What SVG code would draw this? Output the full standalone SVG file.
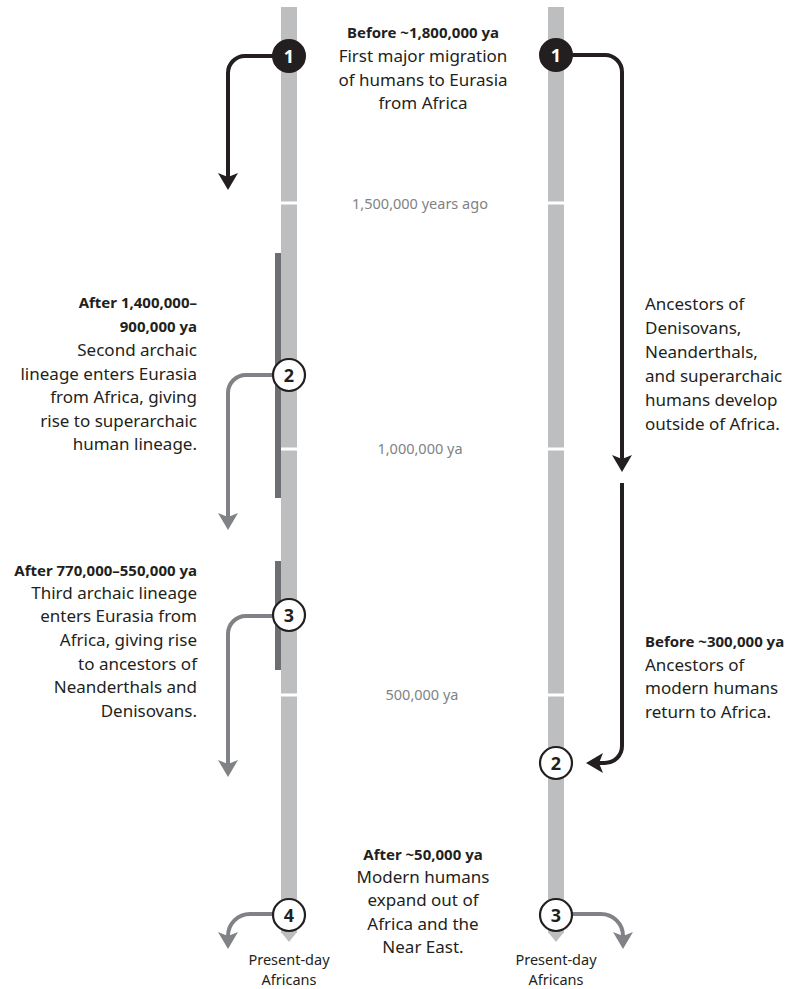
<svg xmlns="http://www.w3.org/2000/svg" width="790" height="989" viewBox="0 0 790 989">
<style>
.t{font-family:"Noto Sans","Liberation Sans",sans-serif;font-size:17px;fill:#231f20}
.b{font-family:"Noto Sans","Liberation Sans",sans-serif;font-size:15px;font-weight:bold;fill:#231f20}
.g{font-family:"Noto Sans","Liberation Sans",sans-serif;font-size:14.5px;fill:#808285}
.p{font-family:"Noto Sans","Liberation Sans",sans-serif;font-size:14.5px;fill:#231f20;text-anchor:middle}
.r{text-anchor:end}
.m{text-anchor:middle}
.bar{fill:#bcbec0}
.gap{fill:#ffffff}
.strip{fill:#6d6e71}
.ca{fill:none;stroke:#231f20;stroke-width:4}
.ga{fill:none;stroke:#808285;stroke-width:4}
.co{fill:#ffffff;stroke:#231f20;stroke-width:2.2}
.cd{fill:#231f20;stroke:#231f20;stroke-width:2}
.n{font-family:"Noto Sans","Liberation Sans",sans-serif;font-size:18px;font-weight:bold;fill:#231f20;text-anchor:middle}
.nw{fill:#ffffff}
</style>
<defs>
<marker id="ad" viewBox="-18 -11 20 22" markerWidth="20" markerHeight="22" refX="-13" refY="0" orient="auto" markerUnits="userSpaceOnUse">
<path d="M0,0 L-17,-10 L-13,0 L-17,10 Z" fill="#231f20"/>
</marker>
<marker id="ag" viewBox="-18 -11 20 22" markerWidth="20" markerHeight="22" refX="-13" refY="0" orient="auto" markerUnits="userSpaceOnUse">
<path d="M0,0 L-17,-10 L-13,0 L-17,10 Z" fill="#808285"/>
</marker>
</defs>

<g id="timeline-left">
<rect class="bar" x="281" y="7" width="16" height="926"/>
<polygon class="bar" points="281,932 297,932 289,942"/>
<rect class="gap" x="281" y="201.5" width="16" height="3"/>
<rect class="gap" x="281" y="447.5" width="16" height="3"/>
<rect class="gap" x="281" y="693.5" width="16" height="3"/>
<rect class="strip" x="275" y="253" width="6" height="245"/>
<rect class="strip" x="275" y="561" width="6" height="109"/>
</g>
<g id="timeline-right">
<rect class="bar" x="548" y="7" width="16" height="926"/>
<polygon class="bar" points="548,932 564,932 556,942"/>
<rect class="gap" x="548" y="201.5" width="16" height="3"/>
<rect class="gap" x="548" y="447.5" width="16" height="3"/>
<rect class="gap" x="548" y="693.5" width="16" height="3"/>
</g>

<g id="connectors">
<path class="ca" d="M273,56 H245 A17,17 0 0 0 228,73 V177" marker-end="url(#ad)"/>
<path class="ca" d="M571,55 H605 A17,17 0 0 1 622,72 V459" marker-end="url(#ad)"/>
<path class="ca" d="M622,483 V746 A17,17 0 0 1 605,763 H599" marker-end="url(#ad)"/>
<path class="ga" d="M272,375 H246 A18,18 0 0 0 228,393 V517" marker-end="url(#ag)"/>
<path class="ga" d="M272,616 H246 A18,18 0 0 0 228,634 V764" marker-end="url(#ag)"/>
<path class="ga" d="M273,914 H250 A22,22 0 0 0 228,936" marker-end="url(#ag)"/>
<path class="ga" d="M571,914 H601 A22,22 0 0 1 623,936" marker-end="url(#ag)"/>
</g>

<g id="node-left-1">
<circle class="cd" cx="289" cy="56" r="16"/>
<text class="n nw" x="289" y="62.5">1</text>
</g>
<g id="node-right-1">
<circle class="cd" cx="556" cy="55" r="16"/>
<text class="n nw" x="556" y="61.5">1</text>
</g>
<g id="node-left-2">
<circle class="co" cx="289" cy="375" r="16"/>
<text class="n" x="289" y="381.5">2</text>
</g>
<g id="node-left-3">
<circle class="co" cx="289" cy="615" r="16"/>
<text class="n" x="289" y="621.5">3</text>
</g>
<g id="node-left-4">
<circle class="co" cx="289" cy="915" r="16"/>
<text class="n" x="289" y="921.5">4</text>
</g>
<g id="node-right-2">
<circle class="co" cx="556" cy="763" r="16"/>
<text class="n" x="556" y="769.5">2</text>
</g>
<g id="node-right-3">
<circle class="co" cx="556" cy="915" r="16"/>
<text class="n" x="556" y="921.5">3</text>
</g>

<g id="label-top">
<text class="b m" x="423" y="38">Before ~1,800,000 ya</text>
<text class="t m" x="423" y="62">First major migration</text>
<text class="t m" x="423" y="86">of humans to Eurasia</text>
<text class="t m" x="423" y="109">from Africa</text>
</g>
<g id="scale-labels">
<text class="g m" x="420" y="209">1,500,000 years ago</text>
<text class="g m" x="420" y="454">1,000,000 ya</text>
<text class="g m" x="422" y="700">500,000 ya</text>
</g>
<g id="label-left-2">
<text class="b r" x="197" y="308">After 1,400,000–</text>
<text class="b r" x="197" y="332">900,000 ya</text>
<text class="t r" x="197" y="356">Second archaic</text>
<text class="t r" x="197" y="380">lineage enters Eurasia</text>
<text class="t r" x="197" y="403">from Africa, giving</text>
<text class="t r" x="197" y="427">rise to superarchaic</text>
<text class="t r" x="197" y="450">human lineage.</text>
</g>
<g id="label-left-3">
<text class="b r" x="197" y="576">After 770,000–550,000 ya</text>
<text class="t r" x="197" y="599">Third archaic lineage</text>
<text class="t r" x="197" y="622">enters Eurasia from</text>
<text class="t r" x="197" y="646">Africa, giving rise</text>
<text class="t r" x="197" y="670">to ancestors of</text>
<text class="t r" x="197" y="693">Neanderthals and</text>
<text class="t r" x="197" y="717">Denisovans.</text>
</g>
<g id="label-right-1">
<text class="t" x="645" y="310">Ancestors of</text>
<text class="t" x="645" y="334">Denisovans,</text>
<text class="t" x="645" y="358">Neanderthals,</text>
<text class="t" x="645" y="382">and superarchaic</text>
<text class="t" x="645" y="406">humans develop</text>
<text class="t" x="645" y="430">outside of Africa.</text>
</g>
<g id="label-right-2">
<text class="b" x="645" y="647">Before ~300,000 ya</text>
<text class="t" x="645" y="671">Ancestors of</text>
<text class="t" x="645" y="694">modern humans</text>
<text class="t" x="645" y="718">return to Africa.</text>
</g>
<g id="label-bottom">
<text class="b m" x="423" y="860">After ~50,000 ya</text>
<text class="t m" x="423" y="883">Modern humans</text>
<text class="t m" x="423" y="906">expand out of</text>
<text class="t m" x="423" y="930">Africa and the</text>
<text class="t m" x="423" y="953">Near East.</text>
</g>
<g id="label-present-left">
<text class="p" x="289" y="965">Present-day</text>
<text class="p" x="289" y="984.5">Africans</text>
</g>
<g id="label-present-right">
<text class="p" x="556" y="965">Present-day</text>
<text class="p" x="556" y="984.5">Africans</text>
</g>
</svg>
